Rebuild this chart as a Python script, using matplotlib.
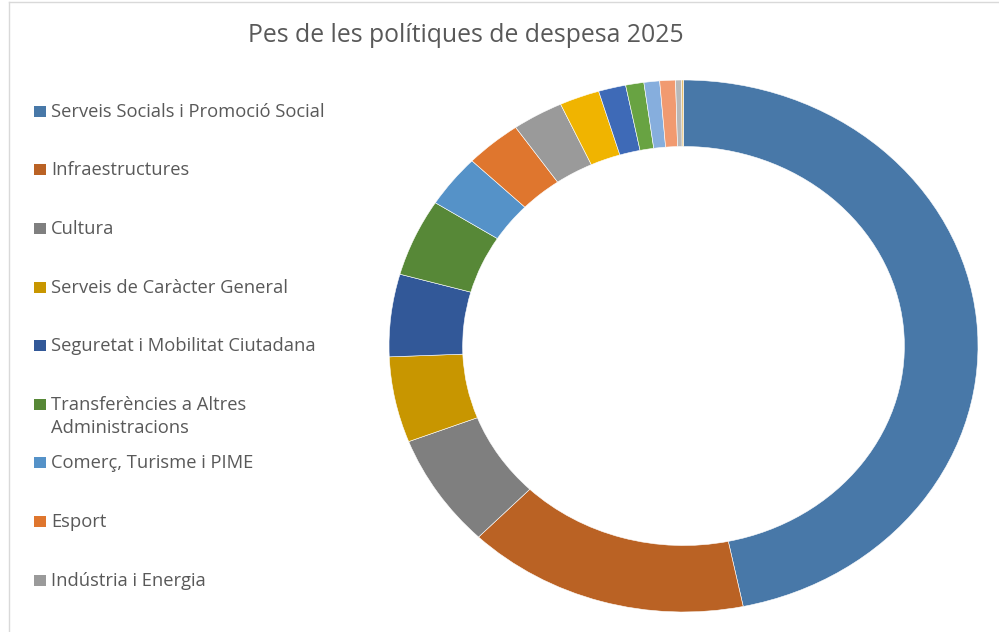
import matplotlib
matplotlib.use("Agg")
import matplotlib.pyplot as plt
from matplotlib.patches import Rectangle

plt.rcParams['font.family'] = ['Open Sans', 'DejaVu Sans']

# polítiques de despesa, in the order Excel draws them (clockwise from the top)
categories = [
    "Serveis Socials i Promoció Social",
    "Infraestructures",
    "Cultura",
    "Serveis de Caràcter General",
    "Seguretat i Mobilitat Ciutadana",
    "Transferències a Altres\nAdministracions",
    "Comerç, Turisme i PIME",
    "Esport",
    "Indústria i Energia",
    "Educació",
    "Habitatge i Urbanisme",
    "Medi Ambient",
    "Sanitat",
    "Ocupació",
    "Deute Públic",
    "Altres",
]
# pes (%)
pes = [46.75, 15.5, 6.9, 5.2, 5.0, 4.7, 3.2, 3.1, 2.8, 2.2, 1.5, 1.0, 0.86, 0.86, 0.33, 0.1]
colors = ["#4878A8", "#BA6224", "#7F7F7F", "#C89600", "#325898", "#578837",
          "#5592C8", "#DF762E", "#9A9A9A", "#F0B400", "#3E6AB7", "#68A342",
          "#86AEDD", "#F19A70", "#B8B8B8", "#E6BE6E"]
n_legend = 9  # Excel only had room for the first nine entries
title = "Pes de les polítiques de despesa 2025"

W, H = 999, 632
fig = plt.figure(figsize=(W / 100, H / 100), dpi=100)

# background layer in pixel coordinates
bg = fig.add_axes([0, 0, 1, 1])
bg.set_xlim(0, W)
bg.set_ylim(H, 0)
bg.axis("off")
bg.plot([9, W], [2, 2], color="#D9D9D9", lw=1)
bg.plot([9, 9], [2, H], color="#D9D9D9", lw=1)

bg.text(466, 42, title, ha="center", va="baseline", fontsize=17.8, color="#595959")

y0, dy, line_h = 111.3, 58.6, 23.3
for i in range(n_legend):
    yc = y0 + i * dy
    bg.add_patch(Rectangle((34, yc - 5.5), 11.5, 11, color=colors[i], lw=0))
    for k, line in enumerate(categories[i].split("\n")):
        bg.text(51, yc + 5.5 + k * line_h, line, ha="left", va="baseline",
                fontsize=13.2, color="#595959")

# donut (Excel stretched it a bit horizontally)
cx, cy, rx, ry = 683.5, 346, 294.5, 266
ax = fig.add_axes([(cx - rx) / W, (H - cy - ry) / H, 2 * rx / W, 2 * ry / H])
ax.pie(pes, colors=colors, startangle=90, counterclock=False, radius=1,
       wedgeprops=dict(width=0.25, edgecolor="white", linewidth=0.4))
ax.set_aspect("auto")
ax.set_xlim(-1, 1)
ax.set_ylim(-1, 1)
ax.axis("off")

fig.savefig("out.png", dpi=100)
